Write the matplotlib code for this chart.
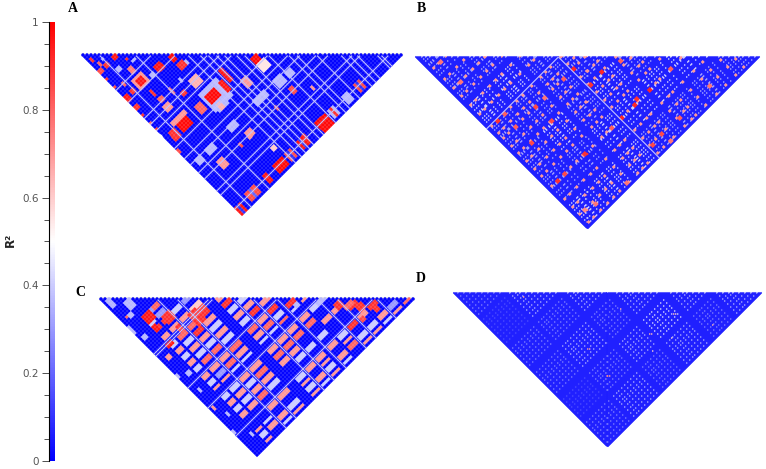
import matplotlib
matplotlib.use("Agg")
import matplotlib.pyplot as plt
import numpy as np
from matplotlib.colors import LinearSegmentedColormap
from matplotlib.patches import Rectangle
from matplotlib.transforms import Affine2D

# block tables: marker i from, i to, marker j from, j to, R2
A_blocks = [
    (21,23,22,25,.98),(41,44,43,47,.98),(6,11,19,24,.7),(7,10,20,23,.95),(3,5,21,23,.9),
    (19,28,39,48,.36),(20,25,41,45,.98),(6,11,41,45,.98),(5,12,39,41,.7),(41,46,75,80,.98),
    (20,25,75,79,.98),(6,11,75,79,.85),(8,9,75,79,.2),(0,3,76,80,.95),(1,2,76,80,.1),(32,36,75,79,.95),
    (33,34,75,79,.1),(26,29,75,79,.85),(27,28,75,79,.1),(15,17,75,79,.95),(60,63,75,79,.85),(61,62,75,79,.1),
    (54,57,75,79,.36),(47,50,75,79,.36),(48,49,75,79,.9),(30,32,38,44,.95),(27,29,41,46,.95),
    (21,24,26,29,.9),(15,18,21,24,.95),(8,10,15,18,.75),(1,2,3,5,.9),(3,5,8,10,.9),
    (0,2,8,10,.85),(7,9,8,10,.95),(0,2,21,24,.95),(8,9,26,29,.9),(8,10,30,32,.8),(0,2,26,28,.9),
    (2,5,41,45,.9),(7,10,33,36,.7),(20,24,33,37,.65),(15,17,34,36,.9),(15,18,41,45,.8),
    (20,25,46,49,.36),(21,23,46,49,.65),(33,36,46,50,.7),(41,45,46,50,.55),(41,45,54,58,.36),
    (46,49,55,58,.36),(31,34,54,57,.36),(18,22,54,57,.36),(7,11,54,57,.36),(2,5,54,57,.36),
    (34,37,54,57,.36),(43,45,60,63,.85),(35,36,61,63,.9),(21,24,60,63,.7),(17,18,61,63,.85),
    (7,10,60,64,.7),(49,50,65,67,.7),(24,26,70,72,.6),
    (0,1,12,13,.9),(0,1,16,17,.85),(0,1,30,31,.9),(0,1,34,35,.8),(0,1,37,38,.9),(0,1,47,49,.85),
    (2,3,6,8,.8),(4,5,6,7,.36),(5,7,12,14,.36),(10,11,12,13,.9),(11,13,14,15,.36),(3,4,17,19,.8),
    (12,14,22,24,.36),(13,14,30,33,.8),(18,19,30,32,.36),(24,25,27,29,.36),
]
A_rows = [4, 13, 26, 29, 31, 33, 35, 38, 40, 46, 51, 53, 58, 64, 66, 68, 73, 74]
A_cols = [17, 23, 31, 34, 37, 46, 51, 54, 58, 61, 67, 69, 76]

C_i_bands = [(6,9),(10,14),(15,19),(20,25),(29,33),(34,38),(39,43),(45,49),(50,54),(55,59),(60,64),(65,69),(70,74),(75,78)]
C_j_bands = [(15,17),(18,20),(21,23),(25,27),(29,31),(32,34),(35,37),(38,40),(41,43),(45,47),
             (48,50),(51,52),(55,57),(58,60),(61,63),(64,66),(69,71),(72,73),(74,76),(77,78)]
C_table = [
    "9497474747474747.747",
    "3397847487374747.47.",
    "..478974878474787.74",
    "..369747487478747.47",
    "....79474874787.4747",
    ".....747978478747.74",
    "........794878.47747",
    "........3.9478.47.74",
    "...........74.7.478.",
    "............4.7.9.47",
    "...............97.47",
    "................9.74",
    "..................37",
    "...................8",
]
C_blocks = [
    (1,3,2,6,.35),(5,8,7,11,.36),(3,5,11,13,.36),(2,3,11,12,.8),(0,1,14,18,.36),(1,3,20,22,.36),
    (2,4,31,33,.7),(0,1,38,40,.36),(3,5,40,42,.36),(2,3,47,49,.36),(1,2,55,57,.7),(3,4,60,62,.36),
    (0,1,66,68,.36),(4,5,71,73,.36),(5,8,28,30,.95),(6,10,15,19,.95),(6,8,20,23,.95),(11,14,15,17,.8),
    (11,15,20,24,.9),(12,14,26,29,.9),(18,22,26,32,.9),(20,25,27,31,.9),(57,60,60,63,.9),(62,65,66,69,.9),
    (59,63,63,65,.8),(66,68,71,73,.9),(53,57,55,57,.36),(47,49,50,52,.36),(60,62,70,72,.85),
]
C_rows = [14, 19, 33, 38, 44, 54, 59, 69]
C_cols = [27, 28, 44, 54, 68]

B_edges = [0, 24, 48, 71, 98, 122, 148, 172]
B_levels = [
    "3343334",
    ".343434",
    "..33344",
    "...3443",
    "....343",
    ".....43",
    "......3",
]
B_hot = [3,5,7,10,11,14,18,21,27,29,32,34,35,39,41,45,51,53,56,59,60,64,66,68,
         74,76,79,82,83,87,90,93,95,101,102,105,108,110,113,115,119,
         125,127,130,133,134,138,141,145,151,153,156,159,161,163,166,169]
B_warm_i = [3,8,15,22,28,34,43,52,57,62,72,78,84,88,99,106,110,120,131,140,150,158]
B_warm_j = [14,25,34,42,51,60,72,79,84,92,99,107,115,122,132,145,153,160,168]
B_i = [72,84,99,88,84,71,72,35,14,35,15,8,8,15,9,9,83,100,99,120,131,34,14,62,43,61,73,84,41,15,7]
B_j = [84,99,132,130,132,132,100,99,100,132,132,132,72,72,34,14,160,161,103,132,160,84,84,84,84,132,161,168,167,162,160]
B_r2 = [.98,.98,.98,.95,.98,.98,.95,.9,.9,.95,.9,.95,.95,.85,.8,.8,.9,.85,.85,.85,.8,.9,.85,.85,.8,.85,.9,.8,.8,.8,.75]
B_pale = [71]

D_edges = [0, 25, 53, 78, 104, 128, 154]
D_levels = [
    "212212",
    ".32323",
    "..3232",
    "...343",
    "....32",
    ".....3",
]
D_hot = [2,5,8,11,14,17,20,23,28,31,33,36,39,42,45,48,51,57,60,62,65,68,71,74,
         81,84,87,89,92,95,98,101,108,111,114,116,119,122,125,131,134,137,139,142,145,148,151]
D_i = [33,39,35,77,75,99,113,40,36,78,100,70,86]
D_j = [37,95,118,118,91,120,145,96,119,119,121,128,131]
D_r2 = [.72,.72,.75,.68,.68,.65,.68,.7,.7,.65,.62,.6,.6]

cbar_ticks = [0, 0.2, 0.4, 0.6, 0.8, 1]
cbar_minor = [0.05,0.1,0.15,0.25,0.3,0.35,0.45,0.5,0.55,0.65,0.7,0.75,0.85,0.9,0.95]

cmap = LinearSegmentedColormap.from_list("ld", ["#0000ff", "#ffffff", "#ff0000"])
cmap.set_bad((1, 1, 1, 0))

fig = plt.figure(figsize=(7.66, 4.69), dpi=100)
ax = fig.add_axes([0, 0, 1, 1])
ax.set_xlim(0, 766)
ax.set_ylim(469, 0)
ax.axis("off")


def blank(n):
    return np.full((n, n), 0.01)


def add_blocks(Z, blocks):
    for i0, i1, j0, j1, v in blocks:
        Z[i0:i1, j0:j1] = v


def add_lattice(Z, edges, levels, hot):
    hot = np.array(hot)
    for a, row in enumerate(levels):
        for b, ch in enumerate(row):
            if ch == ".":
                continue
            ii = hot[(hot >= edges[a]) & (hot < edges[a + 1])]
            jj = hot[(hot >= edges[b]) & (hot < edges[b + 1])]
            Z[np.ix_(ii, jj)] = int(ch) / 10


def draw_panel(Z, x0, ytop, width, rows=(), cols=(), line="#c4c4ff", lw=0.8, grey=True):
    n = Z.shape[0]
    d = width / n
    tr = Affine2D.from_values(d / 2, -d / 2, d / 2, d / 2, x0, ytop) + ax.transData
    if grey:
        ax.add_patch(Rectangle((x0, ytop - d / 2), width, d, color="#e6e6e6", lw=0, zorder=1))
    Z = Z.copy()
    Z[np.tril_indices(n, -1)] = np.nan
    m = ax.pcolormesh(np.arange(n + 1), np.arange(n + 1), Z.T, cmap=cmap, vmin=0, vmax=1,
                      transform=tr, zorder=2, antialiased=True, edgecolors="face", linewidth=0.15)
    for i in rows:
        ax.plot([i + .5, i + .5], [i + 1, n], color=line, lw=lw, transform=tr, zorder=3)
    for j in cols:
        ax.plot([0, j], [j + .5, j + .5], color=line, lw=lw, transform=tr, zorder=3)
    return m


ZA = blank(80)
add_blocks(ZA, A_blocks)
draw_panel(ZA, 81, 55, 322, A_rows, A_cols)

ZC = blank(79)
for a, row in enumerate(C_table):
    i0, i1 = C_i_bands[a]
    for b, ch in enumerate(row):
        if ch != ".":
            j0, j1 = C_j_bands[b]
            ZC[i0:i1, j0:j1] = int(ch) / 10
add_blocks(ZC, C_blocks)
draw_panel(ZC, 99, 299, 316, C_rows, C_cols)

ZB = blank(172)
add_lattice(ZB, B_edges, B_levels, B_hot)
for i in B_warm_i:
    for j in B_warm_j:
        ZB[i:i + 2, j:j + 2] = 0.72
for i, j, v in zip(B_i, B_j, B_r2):
    ZB[i:i + 3, j:j + 3] = v
draw_panel(ZB, 415, 57, 345, B_pale, B_pale, grey=False)

ZD = blank(154)
add_lattice(ZD, D_edges, D_levels, D_hot)
for i, j, v in zip(D_i, D_j, D_r2):
    ZD[i, j] = v
m = draw_panel(ZD, 453, 293, 309, grey=False)

for s, x, y in [("A", 73, 9), ("B", 421, 9), ("C", 80, 292), ("D", 421, 279)]:
    ax.text(x, y, s, family="Liberation Serif", weight="bold", fontsize=10, ha="center", va="center")

cax = fig.add_axes([48.5 / 766, 1 - 461 / 469, 6.5 / 766, 439 / 469])
cb = fig.colorbar(m, cax=cax)
cb.outline.set_visible(False)
cax.spines["left"].set_visible(True)
cax.yaxis.set_ticks_position("left")
cb.set_ticks(cbar_ticks, labels=["0", "0.2", "0.4", "0.6", "0.8", "1"])
cax.set_yticks(cbar_minor, minor=True)
cax.tick_params(which="major", length=5, width=0.6, color="#333333", labelsize=7.5, labelcolor="#555555", pad=2)
cax.tick_params(which="minor", length=3.5, width=0.6, color="#333333")
fig.text(10 / 766, 1 - 240 / 469, "R²", rotation=90, weight="bold", fontsize=8.5, ha="center", va="center", color="#222222")

fig.savefig("out.png", dpi=100)
